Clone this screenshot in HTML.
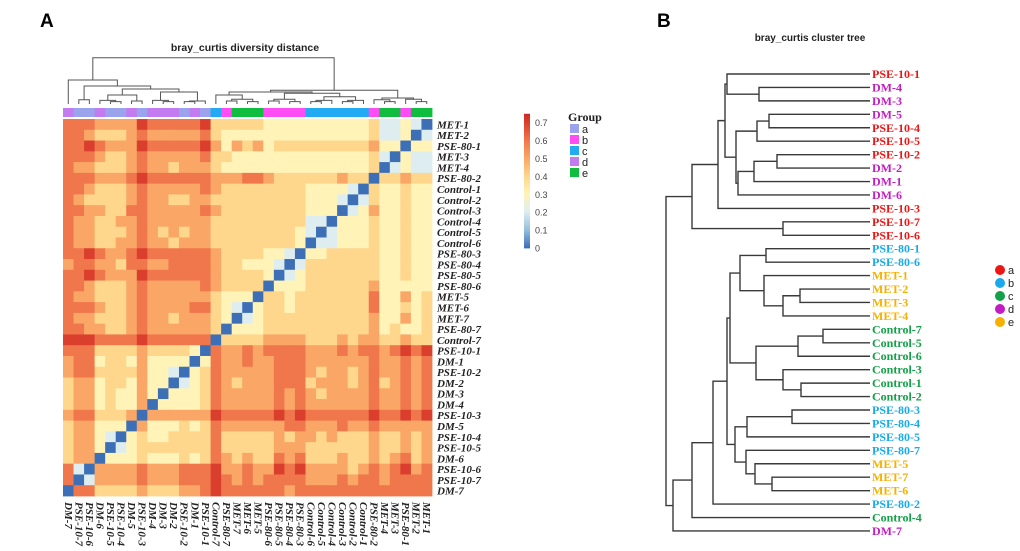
<!DOCTYPE html>
<html><head><meta charset="utf-8">
<style>
html,body{margin:0;padding:0;background:#fff;}
svg{display:block;}
.rl{font-family:"Liberation Serif",serif;font-style:italic;font-weight:bold;font-size:11px;fill:#222;}
.tl{font-family:"Liberation Serif",serif;font-weight:bold;font-size:12px;}
.sans{font-family:"Liberation Sans",sans-serif;}
</style></head>
<body>
<svg id="fig" width="1020" height="551" viewBox="0 0 1020 551" xmlns="http://www.w3.org/2000/svg">
<text x="40" y="27" class="sans" font-size="19" font-weight="bold">A</text>
<text x="657" y="27" class="sans" font-size="19" font-weight="bold">B</text>
<text x="245" y="51" class="sans" font-size="10.5" font-weight="bold" text-anchor="middle" fill="#222">bray_curtis diversity distance</text>
<text x="810" y="41" class="sans" font-size="10" font-weight="bold" text-anchor="middle" fill="#222">bray_curtis cluster tree</text>
<g id="heat"></g>
<g id="dendro"></g>
<g id="cbar"></g>
<g id="glegend"></g>
<g id="tree"></g>
<g id="tlegend"></g>
</svg>
<script>
// ---------- DATA ----------
const samples = ["MET-1","MET-2","PSE-80-1","MET-3","MET-4","PSE-80-2","Control-1","Control-2","Control-3","Control-4","Control-5","Control-6","PSE-80-3","PSE-80-4","PSE-80-5","PSE-80-6","MET-5","MET-6","MET-7","PSE-80-7","Control-7","PSE-10-1","DM-1","PSE-10-2","DM-2","DM-3","DM-4","PSE-10-3","DM-5","PSE-10-4","PSE-10-5","DM-6","PSE-10-6","PSE-10-7","DM-7"];
// upper triangle of distance matrix (tenths), row i starts at the diagonal
const upperTri = [
"023224333333333344444"+"76666675555666",
"03224333333333333334"+"65555565444566",
"0335444444444354535"+"76666675556766",
"024333333333333344"+"65555565445666",
"04333333333333334"+"55545565444556",
"0445444444566555"+"66666676555666",
"023333444444445"+"65555565444566",
"02333444444444"+"55445565444456",
"0333444444445"+"65555566445566",
"022444444444"+"55555565544556",
"02344444444"+"55454565444556",
"0344444444"+"55545565544556",
"023344445"+"66666676556766",
"02333445"+"66665566455665",
"0344445"+"66666675556766",
"044445"+"65555565444566",
"03334"+"55555565444556",
"0234"+"66555565445666",
"034"+"55545565444556",
"04"+"55555565445566",
"0"+"66666676666777",
"03444454444666",
"0333353443665",
"023354444665",
"03353443554",
"0353343554",
"053343554",
"05444665",
"0333554",
"023554",
"03554",
"0554",
"026",
"06",
"0"];
const groupOf = {"MET":"e","PSE-80":"b","Control":"c","DM":"d","PSE-10":"a"};
const groupColors = {a:"#9aa3ec",b:"#ff4cf4",c:"#22aaf2",d:"#c27cf0",e:"#10bd3e"};
const colorTicks = [0,0.1,0.2,0.3,0.4,0.5,0.6,0.7];
// column dendrogram (display column indices), [height, left, right]
const colTree = [0.77,
 [0.4,0,[0.3,[0.07,1,2],[0.25,[0.15,[0.06,3,[0.04,4,5]],[0.05,6,7]],[0.2,[0.06,8,[0.04,9,10]],[0.05,[0.04,11,12],13]]]]],
 [0.23,[0.2,[0.15,14,[0.08,[0.05,15,16],[0.04,17,18]]],[0.18,[0.08,[0.05,19,20],[0.04,21,22]],[0.12,[0.06,[0.04,23,24],25],[0.06,[0.04,26,27],28]]]],
  [0.1,[0.07,29,[0.04,30,31]],[0.08,32,[0.04,33,34]]]]];
// cluster tree (sample names), [height, left, right]
const clusterTree = [1.02,
 [0.89,
  [0.76,[0.725,[0.715,"PSE-10-1",[0.555,"DM-4","DM-3"]],
               [0.67,[0.565,[0.505,"DM-5","PSE-10-4"],"PSE-10-5"],
                     [0.66,[0.58,[0.465,"PSE-10-2","DM-2"],"DM-1"],"DM-6"]]],"PSE-10-3"],
  [0.435,"PSE-10-7","PSE-10-6"]],
 [0.985,
  [0.89,
   [0.785,
    [0.715,
     [0.70,[0.65,[0.52,"PSE-80-1","PSE-80-6"],[0.53,"MET-1",[0.435,[0.35,"MET-2","MET-3"],"MET-4"]]],
           [0.57,[0.36,[0.235,"Control-7","Control-5"],"Control-6"],[0.435,"Control-3",[0.345,"Control-1","Control-2"]]]],
     [0.675,[0.615,[0.39,"PSE-80-3","PSE-80-4"],"PSE-80-5"],
            [0.62,"PSE-80-7",[0.575,"MET-5",[0.49,"MET-7","MET-6"]]]]],
    "PSE-80-2"],
   "Control-4"],
  "DM-7"]];
const treeGroupColors = {a:"#ee1515",b:"#18aaea",c:"#14a048",d:"#c21cc2",e:"#f8b000"};
const legendKeys = ["a","b","c","d","e"];

// ---------- HELPERS ----------
const NS="http://www.w3.org/2000/svg";
function mk(tag,attrs,parent){const e=document.createElementNS(NS,tag);for(const k in attrs)e.setAttribute(k,attrs[k]);parent.appendChild(e);return e;}
function grp(name){const p=name.lastIndexOf("-");return groupOf[name.slice(0,p)];}
const N=samples.length;
const M=[];for(let i=0;i<N;i++)M.push(new Array(N).fill(0));
for(let i=0;i<N;i++)for(let k=0;k<upperTri[i].length;k++){const j=i+k;const v=+upperTri[i][k]/10;M[i][j]=v;M[j][i]=v;}
const stops=[[0,[61,111,182]],[0.1,[150,192,222]],[0.2,[222,238,240]],[0.3,[255,243,184]],[0.4,[254,214,140]],[0.5,[249,166,102]],[0.6,[240,118,76]],[0.7,[218,62,44]],[0.75,[205,40,36]]];
function color(v){for(let s=1;s<stops.length;s++){if(v<=stops[s][0]){const a=stops[s-1],b=stops[s];const t=(v-a[0])/(b[0]-a[0]);const c=a[1].map((x,i)=>Math.round(x+(b[1][i]-x)*t));return `rgb(${c})`;}}return `rgb(${stops[stops.length-1][1]})`;}

// ---------- HEATMAP ----------
const hx0=63,hx1=432,hy0=119,hy1=496;
const cw=(hx1-hx0)/N,ch=(hy1-hy0)/N;
const xCol=c=>hx0+c*cw, yRow=r=>hy0+r*ch;
const heat=document.getElementById("heat");
for(let r=0;r<N;r++){for(let c=0;c<N;c++){const j=N-1-c;
  const el=mk("rect",{x:xCol(c).toFixed(2),y:yRow(r).toFixed(2),width:(cw+0.4).toFixed(2),height:(ch+0.4).toFixed(2),fill:color(M[r][j])},heat);
  
  
}}
for(let r=0;r<N;r++){
  const t=mk("text",{x:437,y:(yRow(r)+ch/2+4).toFixed(1),class:"rl"},heat);t.textContent=samples[r];
  
  
}
for(let c=0;c<N;c++){const j=N-1-c;const x=xCol(c)+cw/2-3.5;
  const t=mk("text",{x:0,y:0,class:"rl",transform:`translate(${x.toFixed(1)},502) rotate(90)`},heat);t.textContent=samples[j];
  
  
  const g=mk("rect",{x:xCol(c).toFixed(2),y:108,width:(cw+0.4).toFixed(2),height:9,fill:groupColors[grp(samples[j])]},heat);
  
  
}

// ---------- COLUMN DENDROGRAM ----------
const dend=document.getElementById("dendro");
const yH=h=>104-h*60;
function drawCol(n){
  if(typeof n==="number")return {x:xCol(n)+cw/2,y:yH(0)};
  const a=drawCol(n[1]),b=drawCol(n[2]);const y=yH(n[0]);
  const p=mk("path",{d:`M${a.x},${a.y}V${y}H${b.x}V${b.y}`,fill:"none",stroke:"#555","stroke-width":1},dend);
  
  
  return {x:(a.x+b.x)/2,y:y};
}
drawCol(colTree);

// ---------- COLOR BAR ----------
const cb=document.getElementById("cbar");
const cbY=v=>248-v*179;
for(let k=0;k<75;k++){const v=k/100;
  const r=mk("rect",{x:524,y:(cbY(v+0.01)).toFixed(2),width:6,height:2.2,fill:color(v)},cb);
  
  
}
colorTicks.forEach(v=>{const t=mk("text",{x:535,y:(cbY(v)+3.5).toFixed(1),class:"sans","font-size":"9",fill:"#444"},cb);t.textContent=String(v);
  
  
});

// ---------- GROUP LEGEND ----------
const gl=document.getElementById("glegend");
const gt=mk("text",{x:568,y:121,"font-family":"Liberation Serif, serif","font-weight":"bold","font-size":"12",fill:"#222"},gl);gt.textContent="Group";


legendKeys.forEach((k,i)=>{const y=124+i*11;
  const r=mk("rect",{x:570,y:y,width:9,height:9,fill:groupColors[k]},gl);
  
  
  const t=mk("text",{x:582,y:y+9,class:"sans","font-size":"11",fill:"#222"},gl);t.textContent=k;
  
  
});

// ---------- CLUSTER TREE ----------
const tr=document.getElementById("tree");
const txH=h=>870-h*200;
let leafIdx=0;const leafY=i=>74+i*13.44;
function drawTree(n){
  if(typeof n==="string"){const y=leafY(leafIdx++);const g=grp(n);
    const t=mk("text",{x:872,y:y+4,class:"tl",fill:treeGroupColors[g]},tr);
    t.textContent=n;
    
    
    return {x:txH(0),y:y};}
  const a=drawTree(n[1]),b=drawTree(n[2]);const x=txH(n[0]);
  const p=mk("path",{d:`M${a.x},${a.y}H${x}V${b.y}H${b.x}`,fill:"none",stroke:"#3a3a3a","stroke-width":1.4},tr);
  
  
  return {x:x,y:(a.y+b.y)/2};
}
drawTree(clusterTree);

// ---------- TREE LEGEND ----------
const tl=document.getElementById("tlegend");
legendKeys.forEach((k,i)=>{const y=270+i*13;
  const c=mk("circle",{cx:1000,cy:y,r:5,fill:treeGroupColors[k]},tl);
  
  
  const t=mk("text",{x:1008,y:y+4,class:"sans","font-size":"11",fill:"#222"},tl);t.textContent=k;
  
  
});
</script>
</body></html>
